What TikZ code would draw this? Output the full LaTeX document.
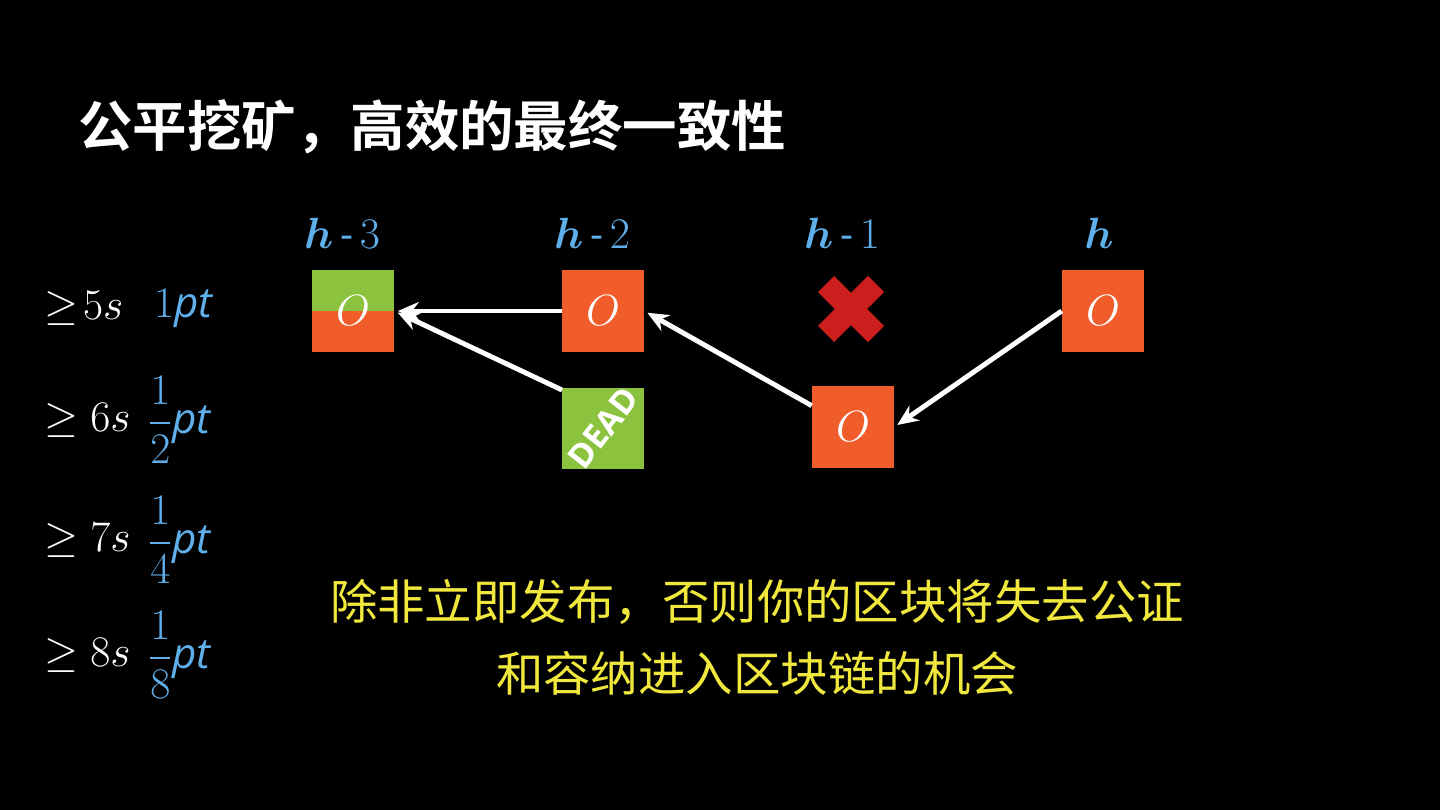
\documentclass[tikz,border=0pt]{standalone}
\usepackage{fontspec}
\usepackage{amsmath, amssymb, bm}
\newfontfamily\cjk{Noto Sans CJK SC}
\newfontfamily\cjkbold{Noto Sans CJK SC Bold}
\setsansfont{Open Sans}
\usetikzlibrary{calc, positioning, arrows.meta}
\definecolor{blockOrange}{RGB}{240,92,42}
\definecolor{blockGreen}{RGB}{140,195,62}
\definecolor{labelBlue}{RGB}{95,175,235}
\definecolor{noteYellow}{RGB}{240,232,60}
\definecolor{crossRed}{RGB}{205,30,30}
\tikzset{
    block/.style={rectangle, fill=blockOrange, minimum size=1.64cm, inner sep=0pt, text=white, font=\fontsize{24}{28}\selectfont},
    height/.style={text=labelBlue, font=\fontsize{23}{27}\selectfont},
    delay/.style={text=white, anchor=west, font=\fontsize{24}{28}\selectfont},
    reward/.style={text=labelBlue, anchor=west, font=\fontsize{24}{28}\selectfont},
    arrow/.style={-{Stealth[length=0.42cm, width=0.36cm]}, white, line width=2.8pt, shorten >=2pt}
}
\begin{document}
\begin{tikzpicture}[x=0.02cm, y=-0.02cm]
    \useasboundingbox[fill=black] (0,0) rectangle (1440,810);

    % Title
    \node[anchor=west, text=white, font=\cjkbold\fontsize{31}{37}\selectfont] (Title) at (72,127) {公平挖矿，高效的最终一致性};

    % Heights
    \node[height] (H3) at (342,233) {$\bm{h}$\,\textsf{-}\,$3$};
    \node[height] (H2) at (592,233) {$\bm{h}$\,\textsf{-}\,$2$};
    \node[height] (H1) at (842,233) {$\bm{h}$\,\textsf{-}\,$1$};
    \node[height] (H0) at (1099,233) {$\bm{h}$};

    % Blocks
    \node[block] (B3) at (353,311) {};
    \fill[blockGreen] (B3.north west) rectangle (B3.east);
    \node[text=white, font=\fontsize{24}{28}\selectfont] at (B3) {$O$};
    \node[block] (B2) at (603,311) {$O$};
    \fill[blockGreen] (562,388) rectangle (644,469);
    \node[rotate=52, text=white, font=\sffamily\bfseries\fontsize{19}{22}\selectfont] (Dead) at (603,428) {DEAD};
    \node[block] (B1) at (853,427) {$O$};
    \node[block] (B0) at (1103,311) {$O$};

    % Orphaned slot
    \coordinate (Cross) at (851,309);
    \draw[crossRed, line width=13pt] ($(Cross)+(-25,-25)$) -- ($(Cross)+(25,25)$) ($(Cross)+(25,-25)$) -- ($(Cross)+(-25,25)$);

    % Links
    \draw[arrow] (B2.west) -- (B3.east);
    \draw[arrow] (562,390) -- (B3.east);
    \draw[arrow] ($(B1.north west)+(0,20)$) -- (B2.east);
    \draw[arrow] (B0.west) -- (B1.east);

    % Delays and rewards
    \node[delay] (D5) at (38,308) {$\geq\!5s$};
    \node[reward] (R5) at (148,308) {$1\textsf{\itshape pt}$};
    \node[delay] (D6) at (38,420) {$\geq6s$};
    \node[reward] (R6) at (142,420) {$\dfrac{1}{2}\textsf{\itshape pt}$};
    \node[delay] (D7) at (38,540) {$\geq7s$};
    \node[reward] (R7) at (142,540) {$\dfrac{1}{4}\textsf{\itshape pt}$};
    \node[delay] (D8) at (38,655) {$\geq8s$};
    \node[reward] (R8) at (142,655) {$\dfrac{1}{8}\textsf{\itshape pt}$};

    % Note
    \node[text=noteYellow, align=center, font=\cjk\fontsize{27}{41}\selectfont] (Note) at (757,637) {除非立即发布，否则你的区块将失去公证\\和容纳进入区块链的机会};
\end{tikzpicture}
\end{document}
